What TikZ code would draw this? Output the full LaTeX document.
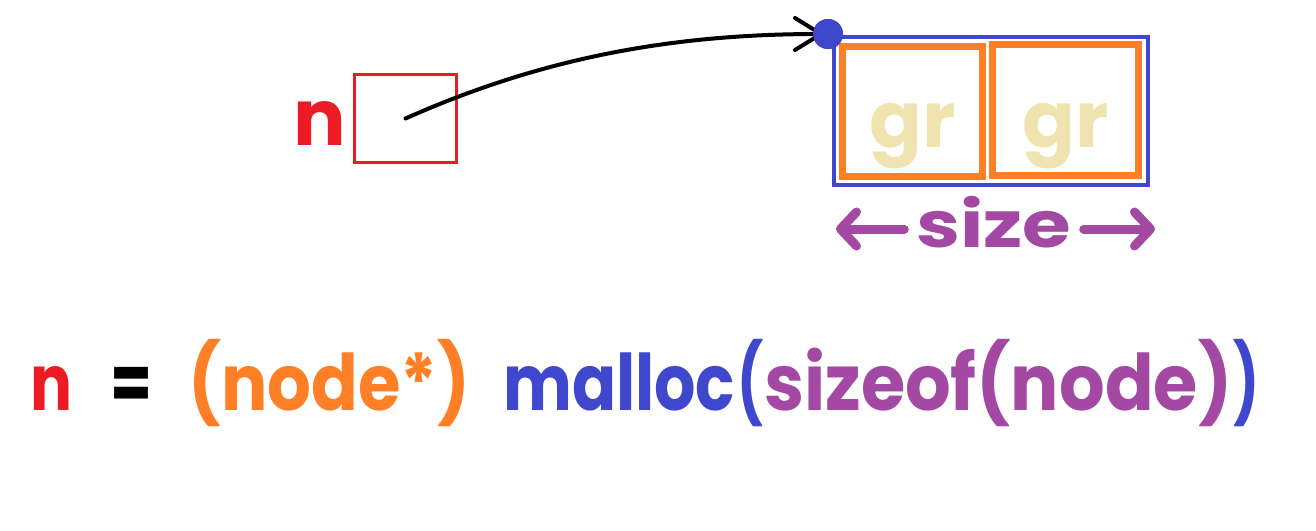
\documentclass[tikz,border=0pt]{standalone}
\usepackage{fontspec}
\usepackage{graphicx}
\usetikzlibrary{arrows.meta}
\newfontfamily\comic{Poppins}
\definecolor{pred}{HTML}{ED1C24}
\definecolor{porange}{HTML}{FF7F27}
\definecolor{pblue}{HTML}{3F48CC}
\definecolor{ppurple}{HTML}{A349A4}
\definecolor{pyellow}{HTML}{EFE4B0}
\newcommand{\fitw}[2]{\resizebox{#1}{\height}{#2}}
\begin{document}
\begin{tikzpicture}[x=1pt,y=-1pt,
  txt/.style={inner sep=0pt,font=\comic\bfseries\fontsize{78}{90}\selectfont},
  smalltxt/.style={inner sep=0pt,font=\comic\bfseries\fontsize{64}{72}\selectfont},
  cell/.style={draw=porange,line width=7pt,inner sep=0pt,minimum width=140pt,minimum height=130pt},
  szarrow/.style={draw=ppurple,line width=9pt,line cap=round,-{Straight Barb[round,length=16pt,width=34pt]}}]
\useasboundingbox (0,0) rectangle (1316,530);
% pointer variable n
\node[txt,text=pred,anchor=base] (nlab) at (320,145) {n};
\node[draw=pred,line width=3.5pt,inner sep=0pt,minimum width=102pt,minimum height=88pt] (nbox) at (405.5,118.5) {};
% memory block
\node[draw=pblue,line width=4pt,inner sep=0pt,minimum width=314pt,minimum height=148pt] (mem) at (991,111) {};
\node[cell,minimum width=140pt,minimum height=130.5pt] (c1) at (912.5,111.25) {};
\node[cell,minimum width=146.3pt,minimum height=131.2pt] (c2) at (1065.6,109.9) {};
\node[txt,text=pyellow,anchor=base] (g1) at (c1 |- 0,147) {gr};
\node[txt,text=pyellow,anchor=base] (g2) at (c2 |- 0,147) {gr};
% pointer arrow
\node[circle,fill=pblue,inner sep=0pt,minimum size=30pt] (dot) at (828,34) {};
\draw[line width=4pt,line cap=round,-{Straight Barb[round,length=26pt,width=32pt]}]
  (nbox.center) to[out=24,in=180,looseness=0.9] ([xshift=-5pt]dot.center);
\node[circle,fill=pblue,inner sep=0pt,minimum size=30pt] at (dot) {};
% size
\node[smalltxt,text=ppurple,anchor=base] (sz) at (994,247) {\fitw{155pt}{size}};
\coordinate (la) at (836,229);
\coordinate (ra) at (1155,229);
\draw[szarrow] ([xshift=-12pt]sz.west |- la) -- (la);
\draw[szarrow] ([xshift=12pt]sz.east |- ra) -- (ra);
% formula
\node[txt,text=pred,anchor=base west] (f1) at (30,410) {\fitw{42pt}{n}};
\node[txt,text=black,anchor=base west] (f2) at (110,410) {\fitw{42pt}{=}};
\node[txt,text=porange,anchor=base west] (f3) at (188,410) {\fitw{282pt}{(node*)}};
\node[txt,text=pblue,anchor=base west] (f4) at (503,410) {\fitw{232pt}{malloc}};
\node[txt,text=pblue,anchor=base west] (f5) at (737,410) {\fitw{26pt}{(}};
\node[txt,text=ppurple,anchor=base west] (f6) at (764,410) {\fitw{468pt}{sizeof(node)}};
\node[txt,text=pblue,anchor=base west] (f7) at (1233,410) {\fitw{26pt}{)}};
\end{tikzpicture}
\end{document}
